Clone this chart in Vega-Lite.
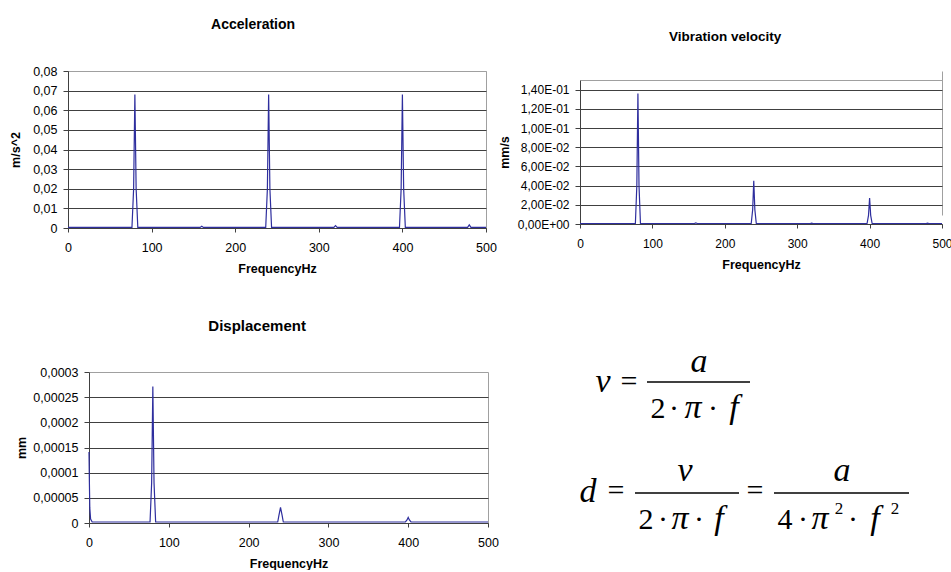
{
  "$schema": "https://vega.github.io/schema/vega-lite/v6.json",
  "background": "white",
  "padding": {"left": 9, "top": 17, "right": 0, "bottom": 0},
  "config": {
    "font": "Liberation Sans",
    "view": {"stroke": "#a0a0a0"},
    "axis": {
      "labelFont": "Liberation Sans", "labelFontSize": 12.5, "labelColor": "black", "labelOverlap": false,
      "titleFont": "Liberation Sans", "titleFontSize": 12.5, "titleFontWeight": "bold", "titleColor": "black",
      "domainColor": "#404040", "tickColor": "#404040", "gridColor": "#404040", "gridOpacity": 1, "labelFlush": false
    },
    "title": {"font": "Liberation Sans", "fontWeight": "bold", "color": "black", "anchor": "middle", "frame": "bounds"}
  },
  "datasets": {
    "acceleration": [
      {"freq": 0, "value": 0.0003}, {"freq": 50, "value": 0.0003}, {"freq": 76.5, "value": 0.0003},
      {"freq": 78.5, "value": 0.02}, {"freq": 80, "value": 0.068}, {"freq": 81.5, "value": 0.02}, {"freq": 83.5, "value": 0.0003},
      {"freq": 158, "value": 0.0003}, {"freq": 160, "value": 0.0009}, {"freq": 162, "value": 0.0003},
      {"freq": 236.5, "value": 0.0003}, {"freq": 238.5, "value": 0.02}, {"freq": 240, "value": 0.068}, {"freq": 241.5, "value": 0.02}, {"freq": 243.5, "value": 0.0003},
      {"freq": 318, "value": 0.0003}, {"freq": 320, "value": 0.0012}, {"freq": 322, "value": 0.0003},
      {"freq": 396.5, "value": 0.0003}, {"freq": 398.5, "value": 0.02}, {"freq": 400, "value": 0.068}, {"freq": 401.5, "value": 0.02}, {"freq": 403.5, "value": 0.0003},
      {"freq": 478, "value": 0.0003}, {"freq": 480, "value": 0.0016}, {"freq": 482, "value": 0.0003},
      {"freq": 500, "value": 0.0003}
    ],
    "velocity": [
      {"freq": 0, "value": 0.0005}, {"freq": 76.5, "value": 0.0005},
      {"freq": 78.5, "value": 0.04}, {"freq": 80, "value": 0.136}, {"freq": 81.5, "value": 0.04}, {"freq": 83.5, "value": 0.0005},
      {"freq": 158, "value": 0.0005}, {"freq": 160, "value": 0.0012}, {"freq": 162, "value": 0.0005},
      {"freq": 236.5, "value": 0.0005}, {"freq": 238.5, "value": 0.015}, {"freq": 240, "value": 0.045}, {"freq": 241.5, "value": 0.015}, {"freq": 243.5, "value": 0.0005},
      {"freq": 318, "value": 0.0005}, {"freq": 320, "value": 0.0009}, {"freq": 322, "value": 0.0005},
      {"freq": 396.5, "value": 0.0005}, {"freq": 398.5, "value": 0.009}, {"freq": 400, "value": 0.027}, {"freq": 401.5, "value": 0.009}, {"freq": 403.5, "value": 0.0005},
      {"freq": 478, "value": 0.0005}, {"freq": 480, "value": 0.0008}, {"freq": 482, "value": 0.0005},
      {"freq": 500, "value": 0.0005}
    ],
    "displacement": [
      {"freq": 0, "value": 0.000141}, {"freq": 0.5, "value": 0.00008}, {"freq": 1, "value": 0.00003}, {"freq": 2, "value": 0.000008}, {"freq": 4, "value": 0.000002},
      {"freq": 76.5, "value": 0.000002}, {"freq": 78.5, "value": 0.00008}, {"freq": 80, "value": 0.000271}, {"freq": 81.5, "value": 0.00008}, {"freq": 83.5, "value": 0.000002},
      {"freq": 236.5, "value": 0.000002}, {"freq": 238, "value": 0.000015}, {"freq": 240, "value": 0.000031}, {"freq": 242, "value": 0.000015}, {"freq": 243.5, "value": 0.000002},
      {"freq": 396.5, "value": 0.000002}, {"freq": 398.5, "value": 0.000006}, {"freq": 400, "value": 0.000011}, {"freq": 401.5, "value": 0.000006}, {"freq": 403.5, "value": 0.000002},
      {"freq": 500, "value": 0.000002}
    ],
    "formula": [
      {"role": "var", "glyph": "ν", "x": 91, "y": 20},
      {"role": "op", "glyph": "=", "x": 117, "y": 19},
      {"role": "var", "glyph": "a", "x": 187, "y": 0},
      {"role": "bar", "x": 135, "x2": 238, "y": 10},
      {"role": "op", "glyph": "2", "x": 146, "y": 46},
      {"role": "op", "glyph": "·", "x": 162, "y": 46},
      {"role": "var", "glyph": "π", "x": 181, "y": 46},
      {"role": "op", "glyph": "·", "x": 201, "y": 46},
      {"role": "var", "glyph": "f", "x": 222, "y": 46},
      {"role": "var", "glyph": "d", "x": 76, "y": 130},
      {"role": "op", "glyph": "=", "x": 104, "y": 128},
      {"role": "bar", "x": 123, "x2": 227, "y": 121},
      {"role": "var", "glyph": "ν", "x": 173, "y": 109},
      {"role": "op", "glyph": "2", "x": 134, "y": 157},
      {"role": "op", "glyph": "·", "x": 151, "y": 157},
      {"role": "var", "glyph": "π", "x": 168, "y": 157},
      {"role": "op", "glyph": "·", "x": 187, "y": 157},
      {"role": "var", "glyph": "f", "x": 207, "y": 157},
      {"role": "op", "glyph": "=", "x": 243, "y": 128},
      {"role": "bar", "x": 262, "x2": 397, "y": 121},
      {"role": "var", "glyph": "a", "x": 330, "y": 109},
      {"role": "op", "glyph": "4", "x": 273, "y": 157},
      {"role": "op", "glyph": "·", "x": 291, "y": 157},
      {"role": "var", "glyph": "π", "x": 308, "y": 157},
      {"role": "sup", "glyph": "2", "x": 327, "y": 142},
      {"role": "op", "glyph": "·", "x": 341, "y": 157},
      {"role": "var", "glyph": "f", "x": 363, "y": 157},
      {"role": "sup", "glyph": "2", "x": 383, "y": 142}
    ]
  },
  "spacing": 42,
  "vconcat": [
    {
      "spacing": 1,
      "hconcat": [
        {
          "title": {"text": "Acceleration", "fontSize": 14, "offset": 33.5},
          "width": 418, "height": 157,
          "data": {"name": "acceleration"},
          "mark": {"type": "line", "color": "#2e2e9e", "strokeWidth": 1.2},
          "encoding": {
            "x": {"field": "freq", "type": "quantitative", "scale": {"domain": [0, 500], "nice": false},
              "axis": {"title": "FrequencyHz", "values": [0, 100, 200, 300, 400, 500], "grid": false, "tickSize": 4, "labelPadding": 9, "titlePadding": 9}},
            "y": {"field": "value", "type": "quantitative", "scale": {"domain": [0, 0.08], "nice": false},
              "axis": {"title": "m/s^2", "values": [0, 0.01, 0.02, 0.03, 0.04, 0.05, 0.06, 0.07, 0.08],
                "labelExpr": "datum.value == 0 ? '0' : replace(format(datum.value, '.2f'), '.', ',')",
                "tickSize": 5, "labelPadding": 6, "titlePadding": 10,
                "gridColor": {"condition": {"test": "datum.value > 0.0795", "value": "#a0a0a0"}, "value": "#404040"}}}
          }
        },
        {
          "title": {"text": "Vibration velocity", "fontSize": 13.5, "offset": 28},
          "width": 362, "height": 153,
          "view": {"stroke": null},
          "data": {"name": "velocity"},
          "mark": {"type": "line", "color": "#2e2e9e", "strokeWidth": 1.2},
          "encoding": {
            "x": {"field": "freq", "type": "quantitative", "scale": {"domain": [0, 500], "nice": false},
              "axis": {"title": "FrequencyHz", "values": [0, 100, 200, 300, 400, 500], "tickSize": 4, "labelPadding": 10, "titlePadding": 9, "labelFontSize": 12,
                "grid": true, "gridColor": "#a0a0a0",
                "gridOpacity": {"condition": {"test": "datum.value > 499", "value": 1}, "value": 0}}},
            "y": {"field": "value", "type": "quantitative", "scale": {"domain": [0, 0.15], "range": [153, 9], "nice": false},
              "axis": {"title": "mm/s", "values": [0, 0.02, 0.04, 0.06, 0.08, 0.1, 0.12, 0.14, 0.15],
                "labelExpr": "datum.value > 0.145 ? '' : replace(replace(replace(format(datum.value, '.2e'), '.', ','), 'e-', 'E-0'), 'e+', 'E+0')",
                "tickSize": 5, "labelPadding": 6, "titlePadding": 6, "labelFontSize": 12,
                "tickOpacity": {"condition": {"test": "datum.value > 0.145", "value": 0}, "value": 1},
                "gridColor": {"condition": {"test": "datum.value > 0.145", "value": "#a0a0a0"}, "value": "#404040"}}}
          }
        }
      ]
    },
    {
      "spacing": 13,
      "hconcat": [
        {
          "title": {"text": "Displacement", "fontSize": 15, "offset": 32.5},
          "width": 420, "height": 151,
          "view": {"stroke": null},
          "data": {"name": "displacement"},
          "mark": {"type": "line", "color": "#2e2e9e", "strokeWidth": 1.2},
          "encoding": {
            "x": {"field": "freq", "type": "quantitative", "scale": {"domain": [0, 500], "range": [21, 420], "nice": false},
              "axis": {"title": "FrequencyHz", "values": [0, 100, 200, 300, 400, 500], "tickSize": 4, "labelPadding": 9, "titlePadding": 9,
                "grid": true, "gridColor": "#a0a0a0",
                "gridOpacity": {"condition": {"test": "datum.value > 499", "value": 1}, "value": 0}}},
            "y": {"field": "value", "type": "quantitative", "scale": {"domain": [0, 0.0003], "nice": false},
              "axis": {"title": "mm", "offset": -21, "values": [0, 0.00005, 0.0001, 0.00015, 0.0002, 0.00025, 0.0003],
                "labelExpr": "datum.value == 0 ? '0' : replace(format(datum.value, '~f'), '.', ',')",
                "tickSize": 5, "labelPadding": 6, "titlePadding": 4,
                "gridColor": {"condition": {"test": "datum.value > 0.000299", "value": "#a0a0a0"}, "value": "#404040"}}}
          }
        },
        {
          "width": 440, "height": 165,
          "view": {"stroke": null},
          "data": {"name": "formula"},
          "layer": [
            {
              "transform": [{"filter": "datum.role == 'bar'"}],
              "mark": {"type": "rule", "color": "black", "strokeWidth": 1.5},
              "encoding": {
                "x": {"field": "x", "type": "quantitative", "scale": {"domain": [0, 440], "nice": false, "zero": false}, "axis": null},
                "x2": {"field": "x2"},
                "y": {"field": "y", "type": "quantitative", "scale": {"domain": [0, 165], "nice": false, "zero": false, "reverse": true}, "axis": null}
              }
            },
            {
              "transform": [{"filter": "datum.role == 'var'"}],
              "mark": {"type": "text", "font": "Liberation Serif", "fontStyle": "italic", "fontSize": 34, "baseline": "alphabetic", "align": "center", "color": "black"},
              "encoding": {
                "x": {"field": "x", "type": "quantitative"},
                "y": {"field": "y", "type": "quantitative"},
                "text": {"field": "glyph"}
              }
            },
            {
              "transform": [{"filter": "datum.role == 'op'"}],
              "mark": {"type": "text", "font": "Liberation Serif", "fontSize": 30, "baseline": "alphabetic", "align": "center", "color": "black"},
              "encoding": {
                "x": {"field": "x", "type": "quantitative"},
                "y": {"field": "y", "type": "quantitative"},
                "text": {"field": "glyph"}
              }
            },
            {
              "transform": [{"filter": "datum.role == 'sup'"}],
              "mark": {"type": "text", "font": "Liberation Serif", "fontSize": 17, "baseline": "alphabetic", "align": "center", "color": "black"},
              "encoding": {
                "x": {"field": "x", "type": "quantitative"},
                "y": {"field": "y", "type": "quantitative"},
                "text": {"field": "glyph"}
              }
            }
          ]
        }
      ]
    }
  ]
}
